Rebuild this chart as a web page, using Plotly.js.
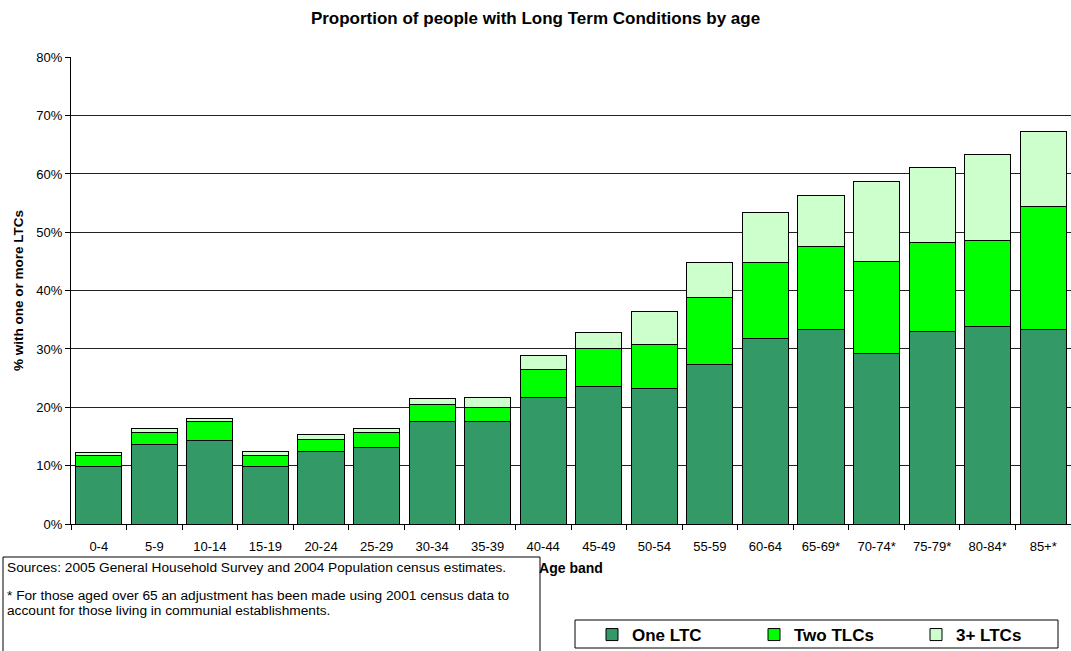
<!DOCTYPE html>
<html>
<head>
<meta charset="utf-8">
<script src="https://cdn.plot.ly/plotly-3.0.1.min.js"></script>
<style>html,body{margin:0;padding:0;background:#fff;}#chart{width:1071px;height:651px;}</style>
</head>
<body>
<div id="chart"></div>
<script>
const ageBands = ["0-4","5-9","10-14","15-19","20-24","25-29","30-34","35-39","40-44","45-49","50-54","55-59","60-64","65-69*","70-74*","75-79*","80-84*","85+*"];
const oneLTC   = [9.8, 13.7, 14.3, 9.8, 12.4, 13.1, 17.6, 17.5, 21.6, 23.6, 23.3, 27.4, 31.8, 33.4, 29.3, 33.0, 33.8, 33.3];
const twoLTCs  = [2.0, 1.9, 3.2, 2.0, 2.0, 2.5, 2.9, 2.5, 4.8, 6.4, 7.4, 11.5, 13.1, 14.2, 15.7, 15.3, 14.8, 21.2];
const threeLTCs= [0.5, 0.7, 0.6, 0.6, 0.9, 0.8, 1.0, 1.6, 2.5, 2.9, 5.8, 6.0, 8.5, 8.7, 13.7, 12.8, 14.8, 12.8];
const seriesNames = ["One LTC", "Two TLCs", "3+ LTCs"];
const yTickVals = [0, 10, 20, 30, 40, 50, 60, 70, 80];
const yTickText = ["0%","10%","20%","30%","40%","50%","60%","70%","80%"];
const titleText = "Proportion of people with Long Term Conditions by age";
const noteSources = "Sources: 2005 General Household Survey and 2004 Population census estimates.";
const noteAdjust1 = "* For those aged over 65 an adjustment has been made using 2001 census data to";
const noteAdjust2 = "account for those living in communial establishments.";

const FONT = "Liberation Sans, Arial, sans-serif";
const colors = ["#339966", "#00FF00", "#CCFFCC"];
const vals = [oneLTC, twoLTCs, threeLTCs];

const traces = vals.map((v, i) => ({
  type: "bar",
  name: seriesNames[i],
  x: ageBands,
  y: v,
  marker: {color: colors[i], line: {color: "#000", width: 1}},
  hoverinfo: "x+y+name"
}));

// plot area: x 71..1071 (1000px), y 57..524 (467px)
const PW = 1000, PH = 467, PL = 71, PB = 524;
const px = v => (v - PL) / PW;
const py = v => (PB - v) / PH;

const noteFont = {family: FONT, size: 13.7, color: "#000"};

const layout = {
  width: 1071, height: 651,
  margin: {l: 71, r: 0, t: 57, b: 127, pad: 0, autoexpand: false},
  paper_bgcolor: "#fff", plot_bgcolor: "#fff",
  barmode: "stack",
  bargap: 0.17,
  font: {family: FONT, color: "#000"},
  title: {text: "<b>" + titleText + "</b>", font: {family: FONT, size: 17, color: "#000"}, x: 0.5, xref: "container", y: 0.972, yref: "container", yanchor: "middle"},
  xaxis: {
    type: "category",
    showline: true, linecolor: "#000", linewidth: 1,
    ticks: "outside", tickson: "boundaries", ticklen: 5, tickcolor: "#000",
    tickfont: {family: FONT, size: 13, color: "#000"},
    tickangle: 0,
    ticklabelstandoff: 10,
    title: {text: "<b>Age band</b>", font: {family: FONT, size: 14, color: "#000"}, standoff: 10},
    showgrid: false, zeroline: false,
    range: [-0.5, 17.5]
  },
  yaxis: {
    range: [0, 80.05],
    tickvals: yTickVals, ticktext: yTickText,
    showline: true, linecolor: "#000", linewidth: 1,
    ticks: "outside", ticklen: 5, tickcolor: "#000",
    tickfont: {family: FONT, size: 13, color: "#000"},
    showgrid: true, gridcolor: "#222", gridwidth: 1,
    zeroline: false,
    title: {text: "<b>% with one or more LTCs</b>", font: {family: FONT, size: 13.5, color: "#000"}, standoff: 9}
  },
  showlegend: true,
  legend: {
    orientation: "h",
    x: px(592), xanchor: "left", xref: "paper",
    y: py(617), yanchor: "top", yref: "paper",
    bgcolor: "rgba(0,0,0,0)", borderwidth: 0,
    font: {family: FONT, size: 17, color: "#000", weight: "bold"},
    entrywidth: 117, entrywidthmode: "pixels",
    traceorder: "normal",
    itemwidth: 30,
    tracegroupgap: 0
  },
  shapes: [
    {type: "rect", xref: "paper", yref: "paper", x0: px(575), x1: px(1058), y0: py(620), y1: py(648), line: {color: "#000", width: 1}, fillcolor: "rgba(0,0,0,0)", layer: "below"},
    {type: "rect", xref: "paper", yref: "paper", x0: px(3), x1: px(540), y0: py(557), y1: py(660), line: {color: "#000", width: 1}, fillcolor: "rgba(0,0,0,0)"}
  ],
  annotations: [
    {xref: "paper", yref: "paper", x: px(5), y: py(567), xanchor: "left", yanchor: "middle", showarrow: false, align: "left", text: noteSources, font: noteFont},
    {xref: "paper", yref: "paper", x: px(5), y: py(595), xanchor: "left", yanchor: "middle", showarrow: false, align: "left", text: noteAdjust1, font: noteFont},
    {xref: "paper", yref: "paper", x: px(5), y: py(610), xanchor: "left", yanchor: "middle", showarrow: false, align: "left", text: noteAdjust2, font: noteFont}
  ]
};

Plotly.newPlot("chart", traces, layout, {displayModeBar: false, responsive: false});
</script>
</body>
</html>
